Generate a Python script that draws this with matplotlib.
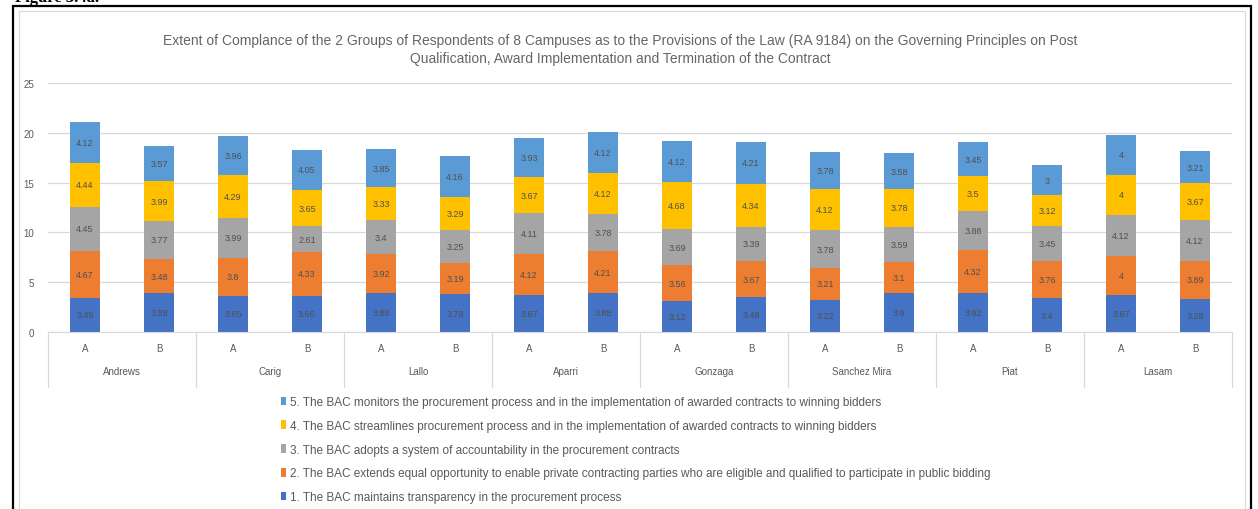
import matplotlib.pyplot as plt
from matplotlib.patches import Rectangle
from matplotlib.transforms import blended_transform_factory

W, H = 1258, 510

campuses = ['Andrews', 'Carig', 'Lallo', 'Aparri', 'Gonzaga', 'Sanchez Mira', 'Piat', 'Lasam']
groups = ['A', 'B']

# one value per bar, bars ordered Andrews A, Andrews B, Carig A, ...
p1 = [3.45, 3.88, 3.65, 3.66, 3.88, 3.78, 3.67, 3.88, 3.12, 3.48, 3.22, 3.9, 3.92, 3.4, 3.67, 3.28]
p2 = [4.67, 3.48, 3.8, 4.33, 3.92, 3.19, 4.12, 4.21, 3.56, 3.67, 3.21, 3.1, 4.32, 3.76, 4, 3.89]
p3 = [4.45, 3.77, 3.99, 2.61, 3.4, 3.25, 4.11, 3.78, 3.69, 3.39, 3.78, 3.59, 3.88, 3.45, 4.12, 4.12]
p4 = [4.44, 3.99, 4.29, 3.65, 3.33, 3.29, 3.67, 4.12, 4.68, 4.34, 4.12, 3.78, 3.5, 3.12, 4, 3.67]
p5 = [4.12, 3.57, 3.96, 4.05, 3.85, 4.16, 3.93, 4.12, 4.12, 4.21, 3.78, 3.58, 3.45, 3, 4, 3.21]

series_names = [
    '1. The BAC maintains transparency in the procurement process',
    '2. The BAC extends equal opportunity to enable private contracting parties who are eligible and qualified to participate in public bidding',
    '3. The BAC adopts a system of accountability in the procurement contracts',
    '4. The BAC streamlines procurement process and in the implementation of awarded contracts to winning bidders',
    '5. The BAC monitors the procurement process and in the implementation of awarded contracts to winning bidders',
]
colors = ['#4472C4', '#ED7D31', '#A5A5A5', '#FFC000', '#5B9BD5']

title = ('Extent of Complance of the 2 Groups of Respondents of 8 Campuses as to the Provisions of the Law '
         '(RA 9184) on the Governing Principles on Post\n'
         'Qualification, Award Implementation and Termination of the Contract')

plt.rcParams['font.family'] = ['Liberation Sans', 'DejaVu Sans']

fig = plt.figure(figsize=(W / 100, H / 100), dpi=100)

# outer frame and chart border
fig.patches.append(Rectangle((13 / W, -0.1), (1251 - 13) / W, (H - 7) / H + 0.1,
                             transform=fig.transFigure, fill=False, edgecolor='black', linewidth=1.6))
fig.patches.append(Rectangle((19 / W, -0.1), (1245 - 19) / W, (H - 12) / H + 0.1,
                             transform=fig.transFigure, fill=False, edgecolor='#D9D9D9', linewidth=0.8))
fig.text(15 / W, (H - 6) / H, 'Figure 3.4a.', family='Liberation Serif', fontweight='bold',
         fontsize=12, va='bottom', ha='left')

left, right, top, bottom = 48, 1232, 84, 333
ax = fig.add_axes([left / W, (H - bottom) / H, (right - left) / W, (bottom - top) / H])

series = [p1, p2, p3, p4, p5]
x = list(range(len(p1)))
base = [0.0] * len(p1)
containers = []
for vals, name, c in zip(series, series_names, colors):
    bc = ax.bar(x, vals, 0.41, bottom=base, color=c, label=name, zorder=2)
    ax.bar_label(bc, labels=['{:g}'.format(v) for v in vals], label_type='center',
                 fontsize=6.5, color='#505050')
    containers.append(bc)
    base = [b + v for b, v in zip(base, vals)]

ax.set_xlim(-0.5, len(p1) - 0.5)
ax.set_ylim(0, 25)
ax.set_yticks(range(0, 26, 5))
ax.yaxis.grid(True, color='#D9D9D9', linewidth=0.9, zorder=0)
ax.tick_params(axis='y', length=0, labelsize=7, labelcolor='#595959', pad=10)
for s in ['top', 'right', 'left']:
    ax.spines[s].set_visible(False)
ax.spines['bottom'].set_color('#D9D9D9')

ax.set_xticks(x)
ax.set_xticklabels(groups * len(campuses))
ax.tick_params(axis='x', length=0, labelsize=7, labelcolor='#595959', pad=8)

# campus names and group separators under the A/B labels
trans = blended_transform_factory(ax.transData, ax.transAxes)
ax_h = bottom - top
for i, name in enumerate(campuses):
    ax.text(2 * i + 0.5, -(372 - bottom) / ax_h, name, transform=trans, ha='center', va='center',
            fontsize=7, color='#595959')
for k in range(len(campuses) + 1):
    ax.plot([2 * k - 0.5, 2 * k - 0.5], [0, -(388 - bottom) / ax_h], transform=trans,
            color='#D9D9D9', linewidth=0.9, clip_on=False)

fig.text(620 / W, (H - 34) / H, title, ha='center', va='top', fontsize=10, color='#666666',
         linespacing=1.35)

handles = containers[::-1]
fig.legend(handles, [h.get_label() for h in handles], loc='upper left',
           bbox_to_anchor=(281 / W, (H - 397) / H), frameon=False, fontsize=8.5,
           labelcolor='#595959', handlelength=0.45, handleheight=0.75, handletextpad=0.35,
           labelspacing=1.0, borderpad=0, borderaxespad=0)

fig.savefig('out.png', dpi=100)
